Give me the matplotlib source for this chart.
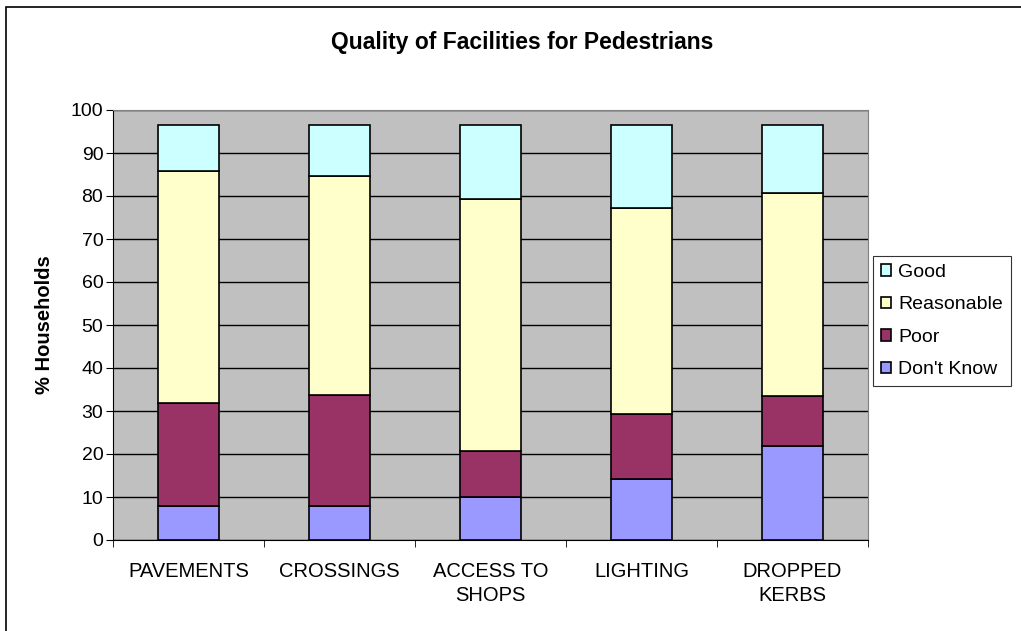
import numpy as np
import matplotlib
matplotlib.use('Agg')
import matplotlib.pyplot as plt
from matplotlib.patches import Rectangle

plt.rcParams['font.family'] = ['Liberation Sans', 'DejaVu Sans']

categories = ['PAVEMENTS', 'CROSSINGS', 'ACCESS TO\nSHOPS', 'LIGHTING', 'DROPPED\nKERBS']
dont_know = [8.0, 8.0, 9.9, 14.3, 21.9]
poor = [23.9, 25.7, 10.9, 15.0, 11.6]
reasonable = [54.0, 51.0, 58.4, 48.0, 47.1]
good = [10.5, 11.7, 17.2, 19.1, 15.8]

series = [("Don't Know", dont_know, '#9999FF'),
          ('Poor', poor, '#993366'),
          ('Reasonable', reasonable, '#FFFFCC'),
          ('Good', good, '#CCFFFF')]

fig = plt.figure(figsize=(10.21, 6.31), dpi=100)
fig.patches.append(Rectangle((6 / 1021, -0.1), 1.2, 1 - 7 / 631 + 0.1, transform=fig.transFigure,
                             fill=False, edgecolor='black', linewidth=1.2))

ax = fig.add_axes([113 / 1021, 91 / 631, 755 / 1021, 430 / 631])
ax.set_facecolor('#C0C0C0')

x = np.arange(len(categories))
bottom = np.zeros(len(categories))
handles = []
for name, vals, color in series:
    b = ax.bar(x, vals, width=0.4, bottom=bottom, color=color, edgecolor='black',
               linewidth=1.2, label=name, zorder=3)
    handles.append(b)
    bottom += np.array(vals)

ax.set_xlim(-0.5, len(categories) - 0.5)
ax.set_ylim(0, 100)
ax.set_yticks(np.arange(0, 101, 10))
ax.yaxis.grid(True, color='black', linewidth=1, zorder=1)
ax.set_axisbelow(True)
ax.set_xticks(x)
ax.set_xticklabels(categories, fontsize=14.5, linespacing=1.35)
ax.set_xticks(np.arange(-0.5, len(categories), 1), minor=True)
ax.tick_params(axis='x', which='major', length=0, pad=16)
ax.tick_params(axis='x', which='minor', length=5, direction='out', color='black')
ax.tick_params(axis='y', length=5, direction='out', labelsize=14, pad=2)

for side in ['top', 'right']:
    ax.spines[side].set_color('#808080')
for side in ['left', 'bottom']:
    ax.spines[side].set_color('black')

ax.set_ylabel('% Households', fontsize=14.5, fontweight='bold', labelpad=12)
fig.text(522 / 1021, 1 - 43 / 631, 'Quality of Facilities for Pedestrians', fontsize=16.5,
         fontweight='bold', ha='center', va='center')

leg = fig.legend(handles[::-1], [s[0] for s in series][::-1], loc='upper left',
                 bbox_to_anchor=(873 / 1021, 1 - 256 / 631), fontsize=14, frameon=True,
                 fancybox=False, edgecolor='black', borderaxespad=0, handlelength=0.55,
                 handleheight=0.55, handletextpad=0.35, labelspacing=0.8, borderpad=0.4)
leg.get_frame().set_linewidth(0.8)

fig.savefig('out.png', dpi=100)
